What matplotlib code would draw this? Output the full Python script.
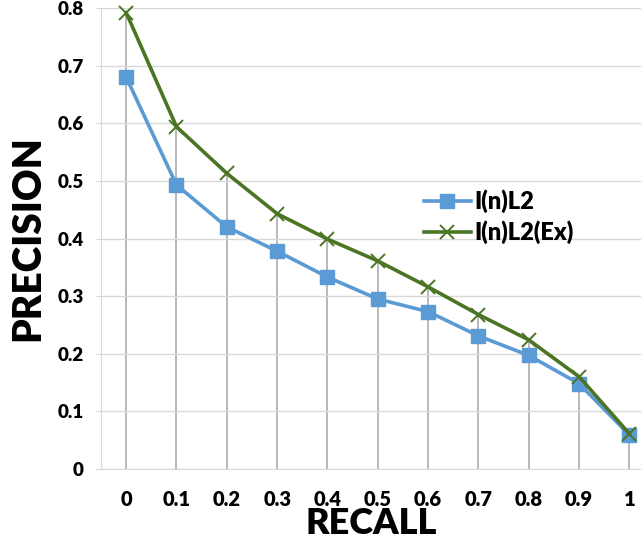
import numpy as np
import matplotlib.pyplot as plt

recall = ['0', '0.1', '0.2', '0.3', '0.4', '0.5', '0.6', '0.7', '0.8', '0.9', '1']
inl2 = [0.680, 0.493, 0.420, 0.378, 0.333, 0.295, 0.273, 0.231, 0.197, 0.148, 0.059]
inl2_ex = [0.792, 0.594, 0.513, 0.443, 0.399, 0.361, 0.316, 0.268, 0.224, 0.160, 0.061]
yticks = [0, 0.1, 0.2, 0.3, 0.4, 0.5, 0.6, 0.7, 0.8]

plt.rcParams['font.family'] = ['Lato', 'DejaVu Sans']
plt.rcParams['font.weight'] = 'heavy'

fig = plt.figure(figsize=(6.41, 5.48), dpi=100)
ax = fig.add_axes([101/641, 1 - 469/548, 1 - 101/641, (469 - 8)/548])

x = np.arange(len(recall))
blue = '#5B9BD5'
green = '#4B7424'

# drop lines from the highest series
ax.vlines(x, 0, np.maximum(inl2, inl2_ex), color='#A6A6A6', lw=1.1, zorder=1)

ax.plot(x, inl2, color=blue, lw=2.6, marker='s', ms=10, zorder=3, clip_on=False,
        label='I(n)L2')
ax.plot(x, inl2_ex, color=green, lw=2.6, marker='x', ms=10, mew=1.4, zorder=4,
        clip_on=False, label='I(n)L2(Ex)')

ax.set_xlim(-0.5, (641 - 126.5) / 50.3)
ax.set_ylim(0, 0.8)
ax.set_yticks(yticks)
ax.set_yticklabels(['0' if v == 0 else '%.1f' % v for v in yticks])
ax.set_xticks(x)
ax.set_xticklabels(recall)

ax.grid(axis='y', color='#D9D9D9', lw=1.0, zorder=0)
for s in ['top', 'right']:
    ax.spines[s].set_visible(False)
ax.spines['left'].set_color('#D9D9D9')
ax.spines['bottom'].set_color('#D9D9D9')
ax.tick_params(axis='y', length=4.5, color='#D9D9D9', pad=8, labelsize=13.5)
ax.tick_params(axis='x', length=0, pad=15, labelsize=14.5)

ax.set_xlabel('RECALL', fontsize=26, fontweight='heavy', labelpad=-1)
ax.set_ylabel('PRECISION', fontsize=28, fontweight='heavy', labelpad=8)

ax.legend(loc='center left', bbox_to_anchor=((412 - 101) / 540, 1 - 209/461),
          frameon=False, fontsize=17, handlelength=2.0, handletextpad=0.15,
          labelspacing=0.3, borderpad=0)

fig.savefig('out.png', dpi=100)
